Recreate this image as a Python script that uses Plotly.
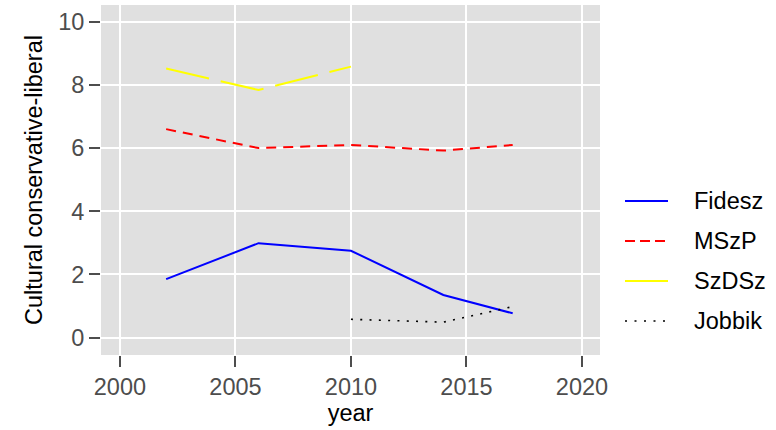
import plotly.graph_objects as go

years_fidesz = [2002, 2006, 2010, 2014, 2017]
fidesz = [1.85, 2.99, 2.75, 1.35, 0.77]
years_mszp = [2002, 2006, 2010, 2014, 2017]
mszp = [6.60, 6.00, 6.10, 5.92, 6.10]
years_szdsz = [2002, 2006, 2010]
szdsz = [8.52, 7.84, 8.58]
years_jobbik = [2010, 2014, 2017]
jobbik = [0.58, 0.49, 0.98]

party_names = ["Fidesz", "MSzP", "SzDSz", "Jobbik"]
x_ticks = [2000, 2005, 2010, 2015, 2020]
y_ticks = [0, 2, 4, 6, 8, 10]

FONT = "Liberation Sans, Arial, Helvetica, sans-serif"
FS = 23.5
W, H = 776, 430
ML, MR, MT, MB = 101, 176, 5, 75
PW, PH = W - ML - MR, H - MT - MB

def px_x(p):
    return (p - ML) / PW

def px_y(p):
    return (H - MB - p) / PH

fig = go.Figure()
styles = [
    ("#0000ff", "solid", 2),
    ("#ff0000", "10px,7px", 2),
    ("#ffff00", "44px,12px", 2),
    ("#000000", "2px,7.3px", 1.6),
]
data = [(years_fidesz, fidesz), (years_mszp, mszp), (years_szdsz, szdsz), (years_jobbik, jobbik)]
legend_dash = ["solid", "10px,5px", "solid", "2px,7.5px"]
for i, (name, (xs, ys), (col, dash, w)) in enumerate(zip(party_names, data, styles)):
    fig.add_trace(go.Scatter(
        x=xs, y=ys, mode="lines", name=name, showlegend=False,
        line=dict(color=col, dash=dash, width=w),
    ))
    row_y = 201 + 40 * i
    fig.add_shape(type="line", xref="paper", yref="paper",
                  x0=px_x(625), x1=px_x(668), y0=px_y(row_y), y1=px_y(row_y),
                  line=dict(color=col, dash=legend_dash[i], width=w))
    fig.add_annotation(xref="paper", yref="paper", x=px_x(692), y=px_y(row_y),
                       xanchor="left", yanchor="middle", text=name, showarrow=False,
                       font=dict(family=FONT, size=FS, color="black"))

fig.update_layout(
    width=W, height=H,
    margin=dict(l=ML, r=MR, t=MT, b=MB),
    paper_bgcolor="white",
    plot_bgcolor="#e0e0e0",
    font=dict(family=FONT, size=FS, color="black"),
    showlegend=False,
)
fig.update_xaxes(
    range=[1999.18, 2020.78], tickvals=x_ticks,
    ticktext=[str(v) for v in x_ticks],
    showgrid=True, gridcolor="white", gridwidth=1.8,
    zeroline=False, showline=False, automargin=False,
    ticks="outside", ticklen=11, tickwidth=1.5, tickcolor="#4d4d4d",
    tickfont=dict(family=FONT, size=FS, color="#4d4d4d"),
    title=dict(text="year", font=dict(family=FONT, size=FS, color="black"), standoff=4),
)
fig.update_yaxes(
    range=[-0.55, 10.53], tickvals=y_ticks,
    ticktext=[str(v) for v in y_ticks],
    showgrid=True, gridcolor="white", gridwidth=1.8,
    zeroline=False, showline=False, automargin=False,
    ticks="outside", ticklen=11, tickwidth=1.5, tickcolor="#4d4d4d",
    tickfont=dict(family=FONT, size=FS, color="#4d4d4d"),
    title=dict(text="Cultural conservative-liberal", font=dict(family=FONT, size=FS, color="black"), standoff=8),
)

fig.write_html("out.html", config={"displayModeBar": False},
               post_script="document.body.style.margin='0';document.body.style.overflow='hidden';")
